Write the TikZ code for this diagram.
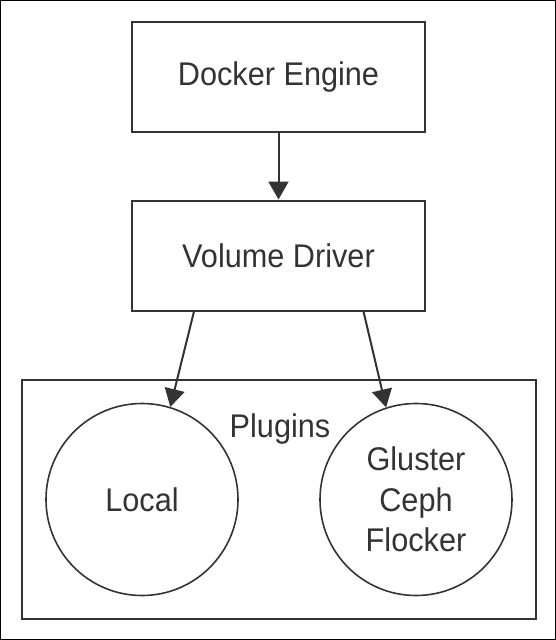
\documentclass[tikz,border=0pt]{standalone}
\usepackage{fontspec}
\setmainfont[FakeStretch=0.935]{Liberation Sans}
\usetikzlibrary{arrows.meta}
\definecolor{ink}{HTML}{333333}
\begin{document}
\begin{tikzpicture}[x=1pt,y=-1pt,
  every node/.style={text=ink, font=\fontsize{32.8}{40.5}\selectfont},
  boxnode/.style={draw=ink, line width=2pt, rectangle, inner sep=0pt, minimum width=293pt, minimum height=110pt},
  circnode/.style={draw=ink, line width=1.6pt, circle, inner sep=0pt, minimum size=192pt, align=center},
  groupbox/.style={draw=ink, line width=2pt, rectangle, inner sep=0pt, minimum width=514pt, minimum height=239pt},
  arr/.style={draw=ink, line width=2pt, -{Triangle[width=20pt,length=18pt]}}
]
\useasboundingbox (0,0) rectangle (556,640);
\draw[black, line width=1.2pt] (0.6,0.6) rectangle (555.4,639.4);

\node[groupbox] (plug) at (279,499.5) {};
\node[anchor=base] (plabel) at (280,437) {Plugins};

\node[boxnode] (de) at (278.5,77) {Docker Engine};
\node[boxnode] (vd) at (278.5,255.5) {Volume Driver};

\node[circnode] (local) at (142,499.5) {Local};
\node[circnode] (glu) at (416,499.5) {Gluster\\Ceph\\Flocker};

\draw[arr] (de.south) -- (vd.north);
\draw[arr] ([xshift=-84.5pt]vd.south) -- (local.73);
\draw[arr] ([xshift=85pt]vd.south) -- (glu.108);
\end{tikzpicture}
\end{document}
